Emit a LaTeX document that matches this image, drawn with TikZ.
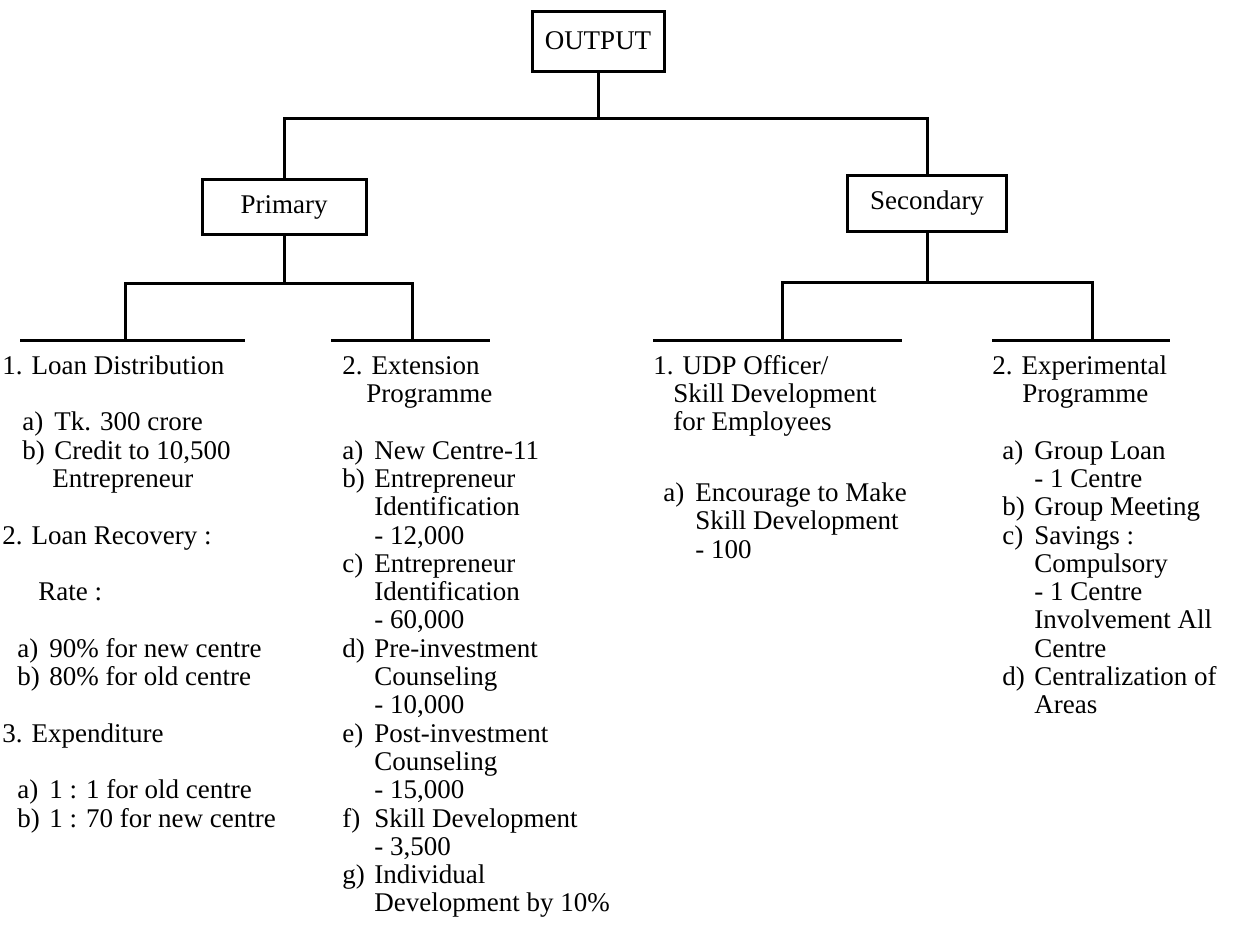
\documentclass[tikz,border=0pt]{standalone}
\usepackage{fontspec}
\setmainfont{Liberation Serif}
\usetikzlibrary{positioning}

% label box for a) b) c) ... and the hanging indent under it
\newcommand{\itm}[1]{\makebox[16pt][l]{#1}}
\newcommand{\ind}{\hspace*{16pt}}
\newlength{\rowgap}\setlength{\rowgap}{14.15pt}

\begin{document}
\begin{tikzpicture}[x=0.5pt,y=-0.5pt,
  every node/.style={font=\fontsize{13.5pt}{14.15pt}\selectfont},
  box/.style={draw, line width=1.5pt, inner sep=0pt},
  col/.style={anchor=north west, inner sep=0pt, align=left},
  link/.style={line width=1.5pt}]

\useasboundingbox (0,0) rectangle (1237,932);

% Top of the tree
\node[box, minimum width=66pt, minimum height=30pt] (out) at (598,41) {OUTPUT};
\node[box, minimum width=82pt, minimum height=27.5pt] (prim) at (284,207) {Primary};
\node[box, minimum width=79.5pt, minimum height=28pt] (sec) at (927,203) {Secondary};

\coordinate (bar) at (598,118);
\draw[link] (out) -- (bar);
\draw[link] (prim.north) |- (bar) -| (sec.north);

% Primary bracket and underlines
\coordinate (pL) at (125,283);
\coordinate (pR) at (412,283);
\coordinate (loanL) at (20,340);
\coordinate (loanR) at (245,340);
\coordinate (extL) at (331,340);
\coordinate (extR) at (490,340);
\draw[link] (prim.south) -- (prim.south |- pL);
\draw[link] (pL |- loanL) -- (pL) -- (pR) -- (pR |- extL);
\draw[link] (loanL) -- (loanR);
\draw[link] (extL) -- (extR);

% Secondary bracket and underlines
\coordinate (sL) at (782,282);
\coordinate (sR) at (1092,282);
\coordinate (udpL) at (653,340);
\coordinate (udpR) at (902,340);
\coordinate (expL) at (992,340);
\coordinate (expR) at (1170,340);
\draw[link] (sec.south) -- (sec.south |- sL);
\draw[link] (sL |- udpL) -- (sL) -- (sR) -- (sR |- expL);
\draw[link] (udpL) -- (udpR);
\draw[link] (expL) -- (expR);

% Column 1: loans
\node[col] (loan) at (2,354) {\strut 1. Loan Distribution\\[\rowgap]
  \hspace*{10pt}\itm{a)}Tk. 300 crore\\
  \hspace*{10pt}\itm{b)}Credit to 10,500\\
  \hspace*{25pt}Entrepreneur\\[\rowgap]
  2. Loan Recovery :\\[\rowgap]
  \hspace*{18pt}Rate :\\[\rowgap]
  \hspace*{7.5pt}\itm{a)}90\% for new centre\\
  \hspace*{7.5pt}\itm{b)}80\% for old centre\\[\rowgap]
  3. Expenditure\\[\rowgap]
  \hspace*{7.5pt}\itm{a)}1 : 1 for old centre\\
  \hspace*{7.5pt}\itm{b)}1 : 70 for new centre};

% Column 2: extension programme
\node[col] (ext) at (342,354) {\strut 2. Extension\\
  \hspace*{12pt}Programme\\[\rowgap]
  \itm{a)}New Centre-11\\
  \itm{b)}Entrepreneur\\
  \ind Identification\\
  \ind - 12,000\\
  \itm{c)}Entrepreneur\\
  \ind Identification\\
  \ind - 60,000\\
  \itm{d)}Pre-investment\\
  \ind Counseling\\
  \ind - 10,000\\
  \itm{e)}Post-investment\\
  \ind Counseling\\
  \ind - 15,000\\
  \itm{f)}Skill Development\\
  \ind - 3,500\\
  \itm{g)}Individual\\
  \ind Development by 10\%};

% Column 3: UDP officer
\node[col] (udp) at (653,354) {\strut 1. UDP Officer/\\
  \hspace*{10pt}Skill Development\\
  \hspace*{10pt}for Employees\\[1.5\rowgap]
  \hspace*{5pt}\itm{a)}Encourage to Make\\
  \hspace*{5pt}\ind Skill Development\\
  \hspace*{5pt}\ind - 100};

% Column 4: experimental programme
\node[col] (expt) at (992,354) {\strut 2. Experimental\\
  \hspace*{15pt}Programme\\[\rowgap]
  \hspace*{5pt}\itm{a)}Group Loan\\
  \hspace*{5pt}\ind - 1 Centre\\
  \hspace*{5pt}\itm{b)}Group Meeting\\
  \hspace*{5pt}\itm{c)}Savings :\\
  \hspace*{5pt}\ind Compulsory\\
  \hspace*{5pt}\ind - 1 Centre\\
  \hspace*{5pt}\ind Involvement All\\
  \hspace*{5pt}\ind Centre\\
  \hspace*{5pt}\itm{d)}Centralization of\\
  \hspace*{5pt}\ind Areas};

\end{tikzpicture}
\end{document}
